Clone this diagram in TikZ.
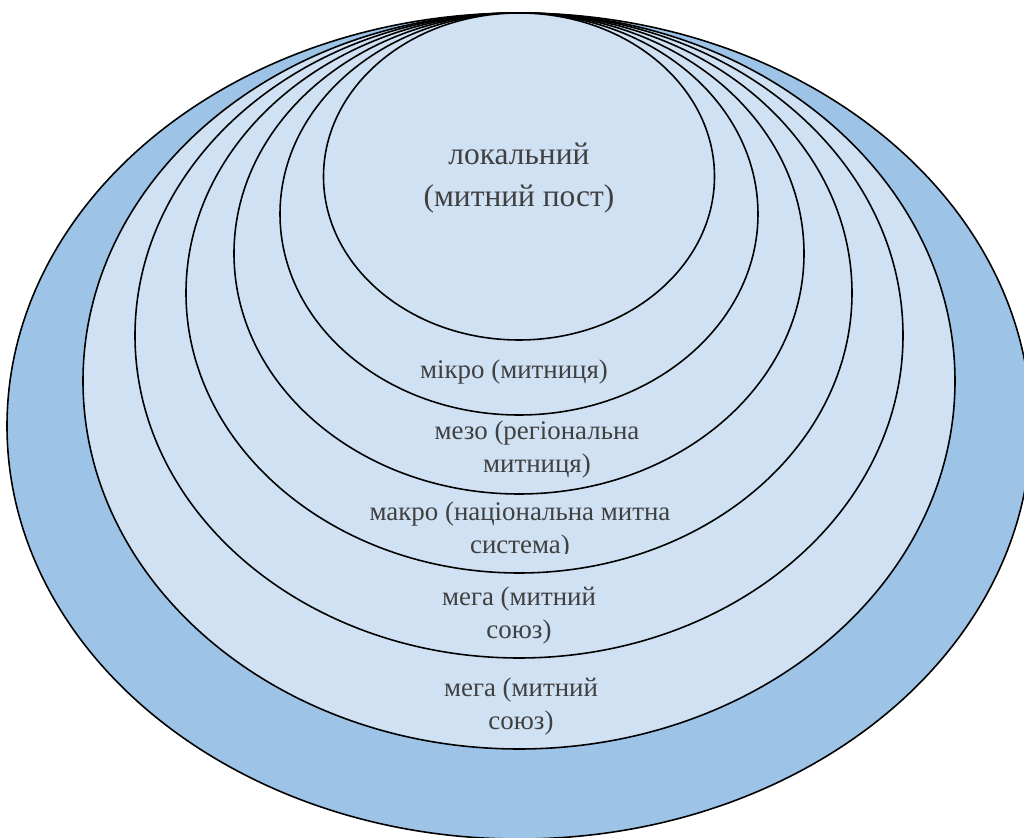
\documentclass[tikz,border=0pt]{standalone}
\usepackage{fontspec}
\setmainfont{Liberation Serif}
\definecolor{levelfill}{HTML}{CFE1F3}
\definecolor{outerfill}{HTML}{9DC3E6}
\definecolor{labelgray}{HTML}{404040}
\begin{document}
\begin{tikzpicture}[
    level/.style={draw=black, line width=0.9pt, fill=levelfill},
    levellabel/.style={text=labelgray, align=center, inner sep=0pt,
        font=\fontsize{15.3}{18.8}\selectfont}
]
    \useasboundingbox (0,0) rectangle (20.48,16.76);

    % Outer ring
    \draw[level, fill=outerfill] (10.38,8.24) ellipse [x radius=10.24, y radius=8.26];

    % Nested levels, all touching at the top
    \draw[level] (10.38,9.14) ellipse [x radius=8.72, y radius=7.36];
    \draw[level] (10.38,10.05) ellipse [x radius=7.68, y radius=6.45];
    \draw[level] (10.38,10.90) ellipse [x radius=6.66, y radius=5.60];
    \draw[level] (10.38,11.69) ellipse [x radius=5.70, y radius=4.81];
    \draw[level] (10.38,12.48) ellipse [x radius=4.78, y radius=4.02];
    \draw[level] (10.38,13.23) ellipse [x radius=3.91, y radius=3.27];

    % Labels
    \node[levellabel, font=\fontsize{17.9}{24}\selectfont] (local) at (10.38,13.20) {локальний\\(митний пост)};
    \node[levellabel] (micro) at (10.28,9.32) {мікро (митниця)};
    \node[levellabel] (meso) at (10.74,7.77) {мезо (регіональна\\митниця)};
    \begin{scope}
        \clip (0,5.68) rectangle (20.48,7.20);
        \node[levellabel] (macro) at (10.40,6.15) {макро (національна митна\\система)};
    \end{scope}
    \node[levellabel] (mega) at (10.38,4.45) {мега (митний\\союз)};
    \node[levellabel] (megaouter) at (10.42,2.63) {мега (митний\\союз)};
\end{tikzpicture}
\end{document}
